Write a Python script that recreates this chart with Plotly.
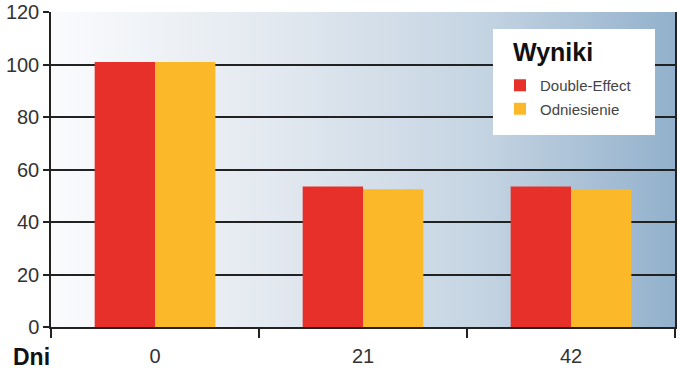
import base64
import plotly.graph_objects as go

days = ["0", "21", "42"]
double_effect = [101, 53.5, 53.5]
odniesienie = [101, 52.5, 52.5]
series_names = ["Double-Effect", "Odniesienie"]
series_colors = ["#e8302a", "#fbb829"]
y_ticks = [0, 20, 40, 60, 80, 100, 120]
legend_title = "Wyniki"
x_title = "Dni"

svg = (
    "<svg xmlns='http://www.w3.org/2000/svg' width='624' height='315' preserveAspectRatio='none'>"
    "<defs><linearGradient id='g' x1='0' y1='0' x2='1' y2='0'>"
    "<stop offset='0' stop-color='#fafbfd'/>"
    "<stop offset='0.35' stop-color='#e3e9f0'/>"
    "<stop offset='0.68' stop-color='#c6d5e3'/>"
    "<stop offset='1' stop-color='#93b1cc'/>"
    "</linearGradient></defs>"
    "<rect width='624' height='315' fill='url(#g)'/></svg>"
)
bg_uri = "data:image/svg+xml;base64," + base64.b64encode(svg.encode()).decode()

font_family = "Liberation Sans, Arial, sans-serif"

# plot area in page pixels: x 51..675, y 12..327
def px(x):
    return (x - 51) / 624

def py(y):
    return (327 - y) / 315

fig = go.Figure()
for i, (name, vals) in enumerate(zip(series_names, [double_effect, odniesienie])):
    fig.add_trace(go.Bar(
        x=days, y=vals, name=name,
        marker=dict(color=series_colors[i], line=dict(width=0)),
        legendgroup=name,
    ))

fig.update_layout(
    width=678, height=378,
    margin=dict(l=51, r=3, t=12, b=51, autoexpand=False),
    paper_bgcolor="white",
    plot_bgcolor="rgba(0,0,0,0)",
    barmode="group",
    bargap=0.42,
    bargroupgap=0,
    font=dict(family=font_family, color="#333333"),
    showlegend=True,
    legend=dict(
        x=px(500), y=py(69), xanchor="left", yanchor="top",
        bgcolor="rgba(0,0,0,0)",
        font=dict(size=15, color="#444444", family=font_family),
        traceorder="grouped",
        tracegroupgap=1,
        itemwidth=30,
    ),
    images=[dict(
        source=bg_uri, xref="paper", yref="paper", x=0, y=1,
        sizex=1, sizey=1, sizing="stretch", layer="below", xanchor="left", yanchor="top",
    )],
    shapes=[dict(
        type="rect", xref="paper", yref="paper",
        x0=px(493), x1=px(655), y0=py(135), y1=py(29),
        fillcolor="white", line=dict(width=0), layer="above",
    )],
    annotations=[
        dict(
            text="<b>" + x_title + "</b>", xref="paper", yref="paper",
            x=px(31), y=py(357),
            xanchor="center", yanchor="middle", showarrow=False,
            font=dict(size=23, color="#111111", family=font_family),
        ),
        dict(
            text="<b>" + legend_title + "</b>", xref="paper", yref="paper",
            x=px(511), y=py(52),
            xanchor="left", yanchor="middle", showarrow=False,
            font=dict(size=25, color="#111111", family=font_family),
        ),
    ],
)

fig.update_xaxes(
    automargin=False,
    showline=True, linecolor="#222222", linewidth=1.5,
    ticks="outside", ticklen=9, tickcolor="#222222", tickwidth=1.5,
    tickson="boundaries", ticklabelstandoff=10,
    tickfont=dict(size=20, color="#333333"),
    showgrid=False,
)
fig.update_yaxes(
    automargin=False,
    range=[0, 120], tickvals=y_ticks,
    showline=True, linecolor="#222222", linewidth=1.5, mirror=True,
    ticks="outside", ticklen=6, tickcolor="#222222", tickwidth=1.5,
    showgrid=True, gridcolor="#222222", gridwidth=1.5,
    zeroline=False,
    tickfont=dict(size=20, color="#333333"),
)

fig.write_html(
    "out.html",
    config={"displayModeBar": False},
    post_script="document.body.style.margin='0';",
)
